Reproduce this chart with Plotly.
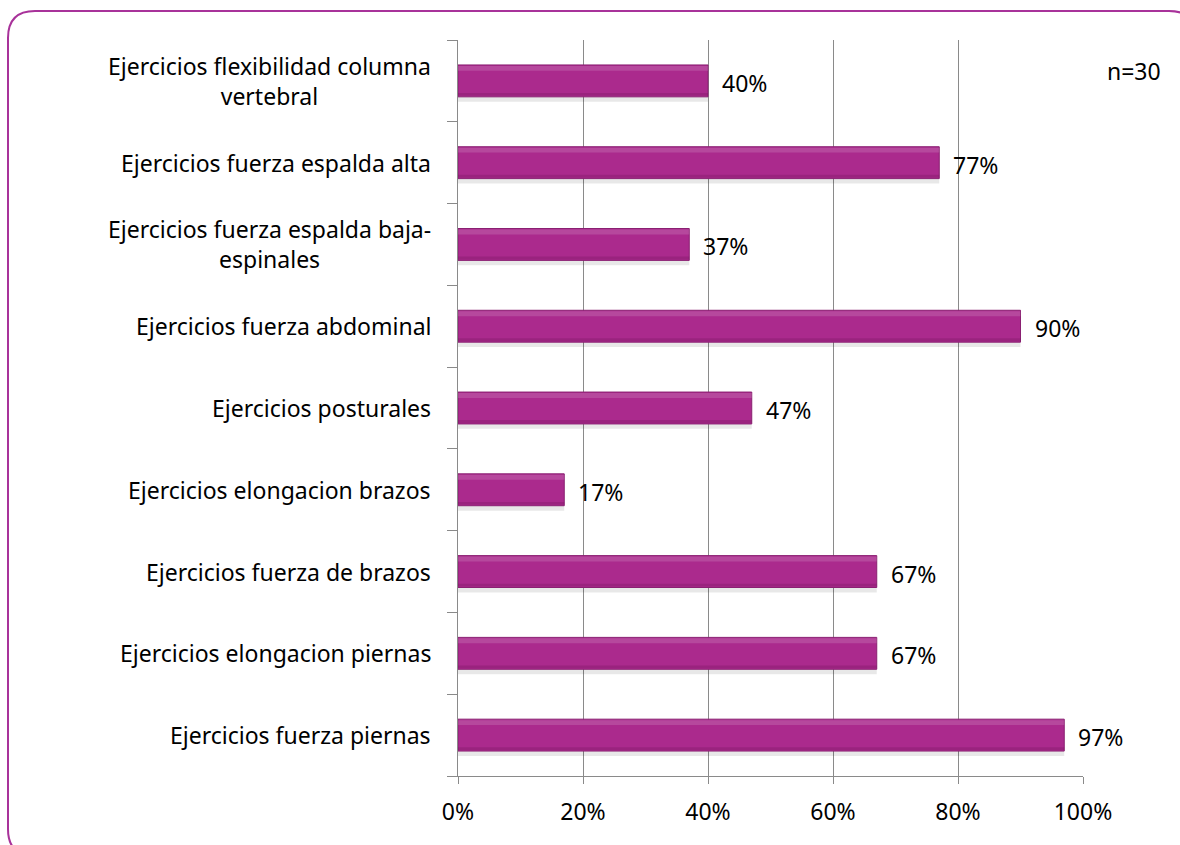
import plotly.graph_objects as go

# Share of participants (n=30) doing each exercise type, top to bottom
categories = [
    "Ejercicios flexibilidad columna<br>vertebral",
    "Ejercicios fuerza espalda alta",
    "Ejercicios fuerza espalda baja-<br>espinales",
    "Ejercicios fuerza abdominal",
    "Ejercicios posturales",
    "Ejercicios elongacion brazos",
    "Ejercicios fuerza de brazos",
    "Ejercicios elongacion piernas",
    "Ejercicios fuerza piernas",
]
values = [0.40, 0.77, 0.37, 0.90, 0.47, 0.17, 0.67, 0.67, 0.97]
x_ticks = [0, 0.2, 0.4, 0.6, 0.8, 1.0]
x_tick_labels = ["0%", "20%", "40%", "60%", "80%", "100%"]
sample_note = "n=30"

W, H = 1180, 845
L, R, T, B = 458, 97, 40, 69
FONT = "Noto Sans"
FS = 23
GRID = "#8a8a8a"
BAR = "#ab2a8d"

def px(xp):
    return (xp - L) / (W - L - R)

def py(yp):
    return (H - B - yp) / (H - T - B)

bar_w = 0.39
keys = list(range(len(categories)))

fig = go.Figure()
# soft drop shadow under each bar
fig.add_trace(go.Bar(
    y=keys, x=values, orientation="h", width=bar_w, offset=-bar_w / 2 + 0.06,
    marker=dict(color="rgba(0,0,0,0.09)", line=dict(width=0)),
    hoverinfo="skip", showlegend=False,
))
# main bars
fig.add_trace(go.Bar(
    y=keys, x=values, orientation="h", width=bar_w, offset=-bar_w / 2,
    marker=dict(color=BAR, line=dict(color="#8a2072", width=1)),
    showlegend=False,
))
# light bevel along the top edge
fig.add_trace(go.Bar(
    y=keys, x=values, orientation="h", width=0.06, offset=-bar_w / 2 + 0.012,
    marker=dict(color="rgba(255,255,255,0.14)", line=dict(width=0)),
    hoverinfo="skip", showlegend=False,
))
# darker bevel along the bottom edge
fig.add_trace(go.Bar(
    y=keys, x=values, orientation="h", width=0.035, offset=bar_w / 2 - 0.047,
    marker=dict(color="rgba(70,0,50,0.16)", line=dict(width=0)),
    hoverinfo="skip", showlegend=False,
))

annotations = []
# value labels just past the bar ends
for k, v in zip(keys, values):
    annotations.append(dict(
        x=v, y=k, xref="x", yref="y", text=f"{round(v * 100)}%",
        showarrow=False, xanchor="left", xshift=12, yshift=-2,
        font=dict(family=FONT, size=FS, color="#000000"),
    ))
# category labels, lines centred on each other
for k, c in zip(keys, categories):
    annotations.append(dict(
        x=px(433), y=k, xref="paper", yref="y", text=c,
        showarrow=False, xanchor="right", align="center",
        font=dict(family=FONT, size=FS, color="#000000"),
    ))
annotations.append(dict(
    x=px(1105), y=py(71), xref="paper", yref="paper", text=sample_note,
    showarrow=False, xanchor="left", yanchor="middle",
    font=dict(family=FONT, size=FS, color="#000000"),
))

# rounded purple frame around the whole chart
x0, y0, x1, y1, rad = 8, 11, 1196, 856, 27
def P(a, b):
    return f"{px(a):.5f},{py(b):.5f}"
frame = (
    f"M {P(x0 + rad, y0)} L {P(x1 - rad, y0)} Q {P(x1, y0)} {P(x1, y0 + rad)} "
    f"L {P(x1, y1 - rad)} Q {P(x1, y1)} {P(x1 - rad, y1)} "
    f"L {P(x0 + rad, y1)} Q {P(x0, y1)} {P(x0, y1 - rad)} "
    f"L {P(x0, y0 + rad)} Q {P(x0, y0)} {P(x0 + rad, y0)} Z"
)

fig.update_layout(
    width=W, height=H,
    margin=dict(l=L, r=R, t=T, b=B),
    paper_bgcolor="white", plot_bgcolor="white",
    barmode="overlay",
    font=dict(family=FONT, size=FS, color="#000000"),
    annotations=annotations,
    shapes=[dict(type="path", path=frame, xref="paper", yref="paper",
                 line=dict(color="#a8329a", width=2), layer="above")],
    xaxis=dict(
        range=[0, 1], tickvals=x_ticks, ticktext=x_tick_labels,
        showgrid=True, gridcolor=GRID, gridwidth=1.3,
        showline=True, linecolor=GRID, linewidth=1.3,
        ticks="outside", ticklen=7, tickcolor=GRID, tickwidth=1.3,
        zeroline=False, ticklabelstandoff=8,
        tickfont=dict(family=FONT, size=FS),
        fixedrange=True,
    ),
    yaxis=dict(
        type="linear", range=[len(categories) - 0.5, -0.5],
        tickvals=[k - 0.5 for k in keys] + [len(categories) - 0.5],
        showticklabels=False, showgrid=False,
        showline=True, linecolor=GRID, linewidth=1.3,
        ticks="outside", ticklen=10, tickcolor=GRID, tickwidth=1.3,
        zeroline=False, fixedrange=True,
    ),
)

fig.write_html("out.html", config={"displayModeBar": False})
